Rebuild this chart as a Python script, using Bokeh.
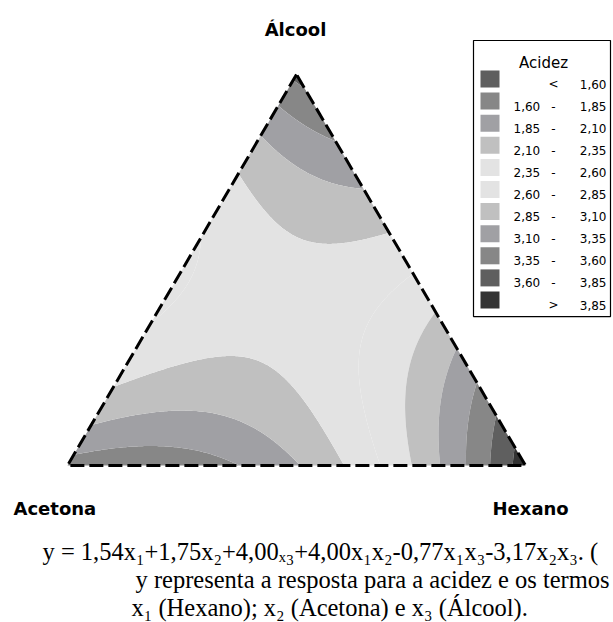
import numpy as np
from bokeh.plotting import figure
from bokeh.models import Range1d
from bokeh.embed import file_html
from bokeh.resources import INLINE
from bokeh.core.properties import value

# ---------------- data ----------------
# vertices of the ternary diagram: top, bottom-left, bottom-right
vertex_labels = ["Álcool", "Acetona", "Hexano"]
# fitted mixture model (Scheffé quadratic) as drawn in the picture:
# linear terms at the top, left and right vertices
linear_coef = [1.54, 1.75, 4.00]
# binary terms: top-left, top-right, left-right
binary_coef = [4.00, -0.77, -3.17]

# contour classes (legend "Acidez")
levels = [1.60, 1.85, 2.10, 2.35, 2.60, 2.85, 3.10, 3.35, 3.60, 3.85]
band_colors = ["#5f5f5f", "#878787", "#a0a0a4", "#c0c0c0", "#e3e3e3",
               "#e3e3e3", "#c0c0c0", "#a0a0a4", "#878787", "#5f5f5f", "#333333"]
legend_title = "Acidez"

caption_lines = [
    "y = 1,54x\u2081+1,75x\u2082+4,00\u2093\u2083+4,00x\u2081x\u2082-0,77x\u2081x\u2083-3,17x\u2082x\u2083. (",
    "y representa a resposta para a acidez e os termos",
    "x\u2081 (Hexano); x\u2082 (Acetona) e x\u2083 (Álcool).",
]

# ---------------- layout (pixels, y downwards) ----------------
PW, PH = 613, 622
BLX, BLY = 67.0, 465.0   # bottom-left vertex
TW, TH = 458.0, 391.0    # triangle width / height


def to_xy(t, l, r):
    return BLX + TW * (r + t / 2.0), BLY - TH * t


p = figure(width=PW, height=PH, x_range=Range1d(0, PW), y_range=Range1d(PH, 0),
           toolbar_location=None, output_backend="svg", title=None,
           x_axis_type=None, y_axis_type=None, min_border=0,
           outline_line_color=None, background_fill_color="white")

# surface on a triangular grid
n = 240
frac = np.linspace(0.0, 1.0, n + 1)
T, B = np.meshgrid(frac, frac, indexing="ij")
XT = T
XR = (1.0 - T) * B
XL = (1.0 - T) * (1.0 - B)
Z = (linear_coef[0] * XT + linear_coef[1] * XL + linear_coef[2] * XR
     + binary_coef[0] * XT * XL + binary_coef[1] * XT * XR + binary_coef[2] * XL * XR)
X, Y = to_xy(XT, XL, XR)

all_levels = [-100.0] + levels + [100.0]
p.contour(X, Y, Z, levels=all_levels, fill_color=band_colors, line_color=None)

# dashed triangle outline
corners = [(1, 0, 0), (0, 1, 0), (0, 0, 1), (1, 0, 0)]
ox = [to_xy(*c)[0] for c in corners]
oy = [to_xy(*c)[1] for c in corners]
p.line(ox, oy, line_color="black", line_width=3, line_dash="14 5", line_join="miter")

# vertex labels
vx_top, vy_top = to_xy(1, 0, 0)
p.text(x=[vx_top - 1], y=[29], text=[vertex_labels[0]], text_align="center",
       text_baseline="alphabetic", text_font=value("DejaVu Sans"),
       text_font_style="bold", text_font_size="18px", text_color="black")
p.text(x=[13, 492], y=[508, 508], text=vertex_labels[1:], text_align="left",
       text_baseline="alphabetic", text_font=value("DejaVu Sans"),
       text_font_style="bold", text_font_size="18px", text_color="black")

# caption
p.text(x=[42, 135, 131], y=[551, 579, 607], text=caption_lines, text_align="left",
       text_baseline="alphabetic", text_font=value("Liberation Serif"),
       text_font_size="24.5px", text_color="black")

# legend
LX0, LX1, LY0 = 473, 610, 40
row_h = 22.1
sw_top0 = 70
nrows = len(band_colors)
LY1 = sw_top0 + nrows * row_h + 3
p.quad(left=[LX0], right=[LX1], top=[LY0], bottom=[LY1], fill_color="white",
       line_color="black", line_width=1.2)
p.text(x=[543], y=[62], text=[legend_title], text_align="center",
       text_baseline="alphabetic", text_font=value("DejaVu Sans"),
       text_font_size="15px", text_color="black")

sw_tops = [sw_top0 + k * row_h for k in range(nrows)]
p.quad(left=[LX0 + 7] * nrows, right=[LX0 + 26] * nrows, top=sw_tops,
       bottom=[t + 17 for t in sw_tops], fill_color=band_colors, line_color=None)


def fmt(v):
    return f"{v:.2f}".replace(".", ",")


lows, mids, highs = [], [], []
for k in range(nrows):
    if k == 0:
        lows.append(""); mids.append("<"); highs.append(fmt(levels[0]))
    elif k == nrows - 1:
        lows.append(""); mids.append(">"); highs.append(fmt(levels[-1]))
    else:
        lows.append(fmt(levels[k - 1])); mids.append("-"); highs.append(fmt(levels[k]))
base = [t + 13.5 for t in sw_tops]
common = dict(text_baseline="alphabetic", text_font=value("DejaVu Sans"),
              text_font_size="12px", text_color="black")
p.text(x=[LX0 + 40] * nrows, y=base, text=lows, text_align="left", **common)
p.text(x=[LX0 + 80] * nrows, y=base, text=mids, text_align="center", **common)
p.text(x=[LX1 - 4] * nrows, y=base, text=highs, text_align="right", **common)

open("out.html", "w").write(file_html(p, INLINE))
